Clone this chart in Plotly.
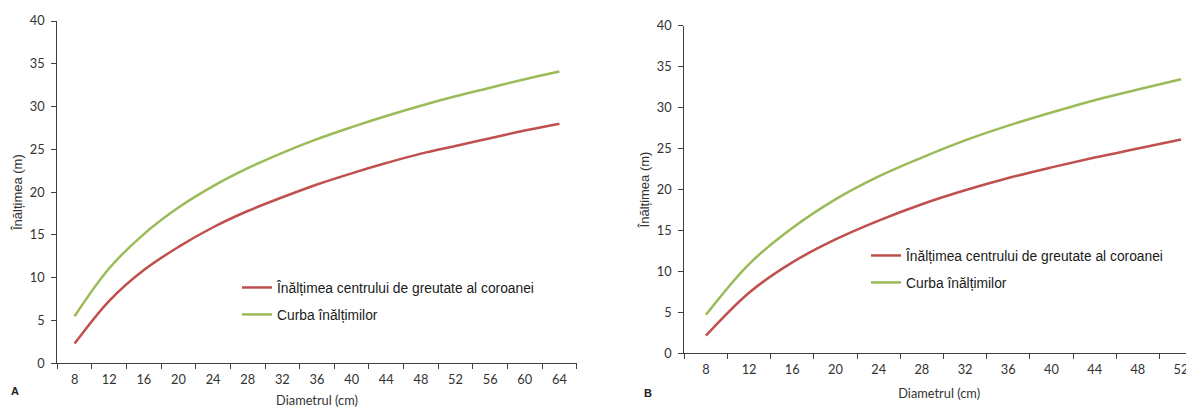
import plotly.graph_objects as go

# ---- data ----
diam_a = ["8", "12", "16", "20", "24", "28", "32", "36", "40", "44", "48", "52", "56", "60", "64"]
crown_a = [2.3, 7.3, 10.9, 13.6, 15.9, 17.8, 19.4, 20.9, 22.2, 23.4, 24.5, 25.4, 26.3, 27.2, 28.0]
height_a = [5.5, 11.1, 15.1, 18.2, 20.7, 22.8, 24.6, 26.2, 27.6, 28.9, 30.1, 31.2, 32.2, 33.2, 34.1]

diam_b = ["8", "12", "16", "20", "24", "28", "32", "36", "40", "44", "48", "52"]
crown_b = [2.15, 7.4, 11.1, 13.9, 16.2, 18.2, 19.9, 21.4, 22.7, 23.9, 25.0, 26.1]
height_b = [4.7, 10.9, 15.3, 18.8, 21.6, 23.9, 26.0, 27.8, 29.4, 30.9, 32.2, 33.45]

y_ticks = [0, 5, 10, 15, 20, 25, 30, 35, 40]

name_crown = "Înălțimea centrului de greutate al coroanei"
name_height = "Curba înălțimilor"
RED = "#C0504D"
GREEN = "#9BBB59"

fig = go.Figure()
fig.add_trace(go.Scatter(x=diam_a, y=crown_a, mode="lines", name=name_crown,
                         line=dict(color=RED, width=2.5, shape="spline", smoothing=1.0),
                         xaxis="x", yaxis="y", legend="legend", legendgroup="a1"))
fig.add_trace(go.Scatter(x=diam_a, y=height_a, mode="lines", name=name_height,
                         line=dict(color=GREEN, width=2.5, shape="spline", smoothing=1.0),
                         xaxis="x", yaxis="y", legend="legend", legendgroup="a2"))
fig.add_trace(go.Scatter(x=diam_b, y=crown_b, mode="lines", name=name_crown,
                         line=dict(color=RED, width=2.5, shape="spline", smoothing=1.0),
                         xaxis="x2", yaxis="y2", legend="legend2", legendgroup="b1"))
fig.add_trace(go.Scatter(x=diam_b, y=height_b, mode="lines", name=name_height,
                         line=dict(color=GREEN, width=2.5, shape="spline", smoothing=1.0),
                         xaxis="x2", yaxis="y2", legend="legend2", legendgroup="b2"))

AX = "#404040"
tickfont = dict(family="Lato, Open Sans, sans-serif", size=12.8, color="#333333")
titlefont_y = dict(family="Liberation Sans, Arial, sans-serif", size=13, color="#333333")
titlefont_x = dict(family="Lato, Open Sans, sans-serif", size=12.8, color="#333333")
legfont = dict(family="Liberation Sans, Arial, sans-serif", size=13.8, color="#1a1a1a")

common_x = dict(type="category", tickson="boundaries", ticks="outside", ticklen=5,
                tickcolor=AX, showline=True, linecolor=AX, linewidth=1.2,
                showgrid=False, zeroline=False, tickfont=tickfont, automargin=False,
                ticklabelstandoff=4)
common_y = dict(range=[0, 40], tickvals=y_ticks, ticks="outside", ticklen=5,
                tickcolor=AX, showline=True, linecolor=AX, linewidth=1.2,
                showgrid=False, zeroline=False, tickfont=tickfont, automargin=False,
                ticklabelstandoff=4)

# page has an 8px body margin: figure coords = reference coords - 8
OFF = 8
W, H = 1186, 400


def px(x):
    return (x - OFF) / W


def py(y):
    return (H - (y - OFF)) / H


fig.update_layout(
    width=W, height=H,
    margin=dict(l=0, r=0, t=0, b=0, autoexpand=False),
    paper_bgcolor="white", plot_bgcolor="white",
    xaxis=dict(common_x, domain=[px(57.3), px(576.7)], range=[-0.5, 14.5], anchor="y",
               title=dict(text="Diametrul (cm)", font=titlefont_x, standoff=10)),
    yaxis=dict(common_y, domain=[py(363.3), py(21)], anchor="x",
               title=dict(text="Înălțimea (m)", font=titlefont_y, standoff=4)),
    xaxis2=dict(common_x, domain=[px(684.3), 1.0], range=[-0.5, 11.3], anchor="y2",
                title=dict(text="Diametrul (cm)", font=titlefont_x, standoff=13)),
    yaxis2=dict(common_y, domain=[py(353.3), py(25.7)], anchor="x2",
                title=dict(text="Înălțimea (m)", font=titlefont_y, standoff=4)),
    legend=dict(x=px(237), y=py(272), xanchor="left", yanchor="top",
                bgcolor="rgba(0,0,0,0)", tracegroupgap=6, itemwidth=30, font=legfont),
    legend2=dict(x=px(866), y=py(240), xanchor="left", yanchor="top",
                 bgcolor="rgba(0,0,0,0)", tracegroupgap=6, itemwidth=30, font=legfont),
    annotations=[
        dict(text="<b>A</b>", x=px(15), y=py(391), xref="paper", yref="paper",
             xanchor="center", yanchor="middle", showarrow=False,
             font=dict(family="Liberation Sans, Arial, sans-serif", size=11, color="#222")),
        dict(text="<b>B</b>", x=px(648), y=py(393), xref="paper", yref="paper",
             xanchor="center", yanchor="middle", showarrow=False,
             font=dict(family="Liberation Sans, Arial, sans-serif", size=11, color="#222")),
    ],
)

fig.write_html("out.html")
